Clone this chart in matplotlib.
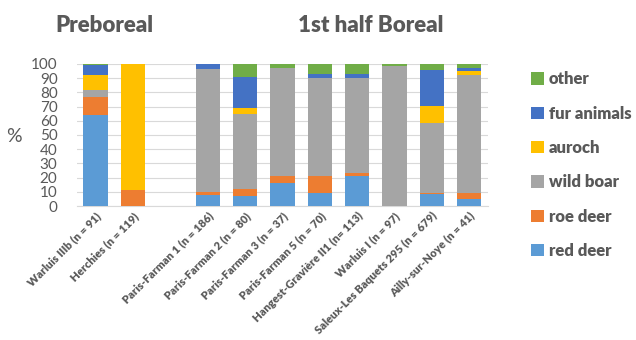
import numpy as np
import matplotlib.pyplot as plt

plt.rcParams['font.family'] = ['Lato', 'DejaVu Sans']

sites = ['Warluis IIIb (n = 91)', 'Herchies (n = 119)', '',
         'Paris-Farman 1 (n = 186)', 'Paris-Farman 2 (n = 80)',
         'Paris-Farman 3 (n = 37)', 'Paris-Farman 5 (n = 70)',
         'Hangest-Gravière II1 (n= 113)', 'Warluis I (n = 97)',
         'Saleux-Les Baquets 295 (n = 679)', 'Ailly-sur-Noye (n = 41)']

red_deer = [64, 0, 0, 7.5, 7.3, 16, 9.4, 21, 0, 8.2, 4.7]
roe_deer = [13, 11.3, 0, 2.5, 4.7, 5.4, 11.6, 2.2, 0, 1.2, 4.7]
wild_boar = [5, 0, 0, 86.5, 53, 76, 69, 66.8, 98.8, 48.8, 82.8]
auroch = [10, 88.7, 0, 0, 3.8, 0, 0, 0, 0, 12.2, 2.8]
fur_animals = [7, 0, 0, 3.5, 22.2, 0, 2.7, 2.7, 0, 25.4, 2.4]
other = [1, 0, 0, 0, 9, 2.6, 7.3, 7.3, 1.2, 4.2, 2.6]

series = [('red deer', red_deer, '#5B9BD5'),
          ('roe deer', roe_deer, '#ED7D31'),
          ('wild boar', wild_boar, '#A5A5A5'),
          ('auroch', auroch, '#FFC000'),
          ('fur animals', fur_animals, '#4472C4'),
          ('other', other, '#70AD47')]

txt = '#595959'

fig = plt.figure(figsize=(6.36, 3.4), dpi=100)
ax = fig.add_axes([0.121, 0.394, 0.646, 0.418])

x = np.arange(len(sites))
bottom = np.zeros(len(sites))
handles = []
for name, vals, col in series:
    vals = np.array(vals, dtype=float)
    h = ax.bar(x, vals, 0.65, bottom=bottom, color=col, label=name, zorder=3)
    handles.append(h)
    bottom += vals

ax.set_xlim(-0.5, len(sites) - 0.5)
ax.set_ylim(0, 100)
ax.set_yticks(range(0, 101, 10))
ax.yaxis.grid(True, color='#D9D9D9', linewidth=0.8, zorder=0)
ax.tick_params(axis='y', length=0, labelsize=11, labelcolor=txt, pad=14)
ax.tick_params(axis='x', length=0, pad=3)
for s in ['top', 'right', 'left']:
    ax.spines[s].set_visible(False)
ax.spines['bottom'].set_color('#D9D9D9')

ax.set_xticks(x)
ax.set_xticklabels(sites, rotation=45, ha='right', rotation_mode='anchor',
                   fontsize=8, fontweight='heavy', color=txt)

fig.text(0.022, 0.6, '%', fontsize=14, color=txt, ha='center', va='center')

fig.text(0.164, 0.925, 'Preboreal', fontsize=16, fontweight='heavy', color=txt,
         ha='center', va='center')
fig.text(0.583, 0.925, '1st half Boreal', fontsize=16, fontweight='heavy',
         color=txt, ha='center', va='center')

leg = fig.legend(handles[::-1], [s[0] for s in series][::-1],
                 loc='upper left', bbox_to_anchor=(0.835, 0.79),
                 frameon=False, fontsize=12, labelspacing=1.1,
                 handlelength=0.75, handleheight=0.75, handletextpad=0.3,
                 borderaxespad=0, borderpad=0)
for t in leg.get_texts():
    t.set_color(txt)
    t.set_fontweight('heavy')

fig.savefig('out.png', dpi=100)
